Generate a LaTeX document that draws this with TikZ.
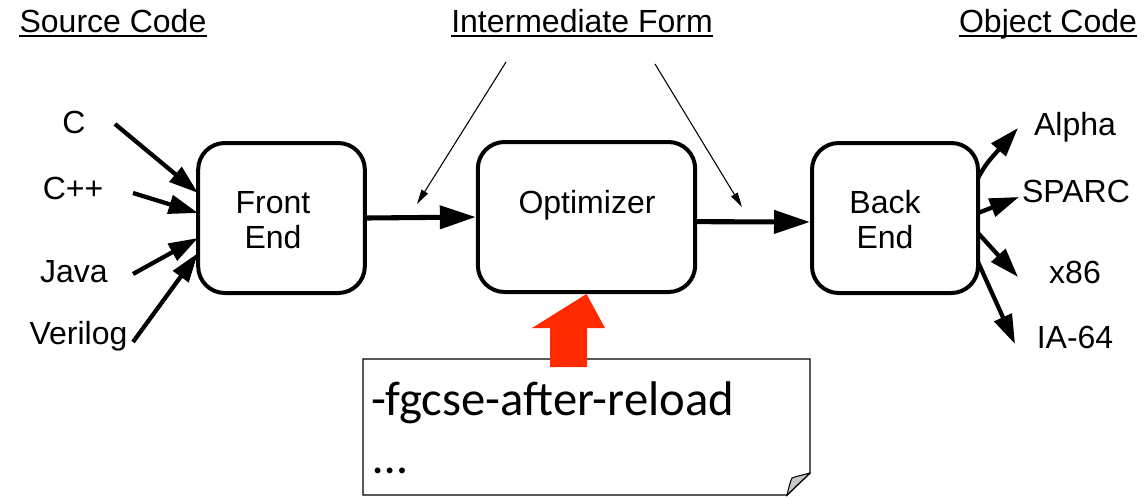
\documentclass[tikz,border=0pt]{standalone}
\usepackage{fontspec}
\setmainfont{Liberation Sans}
\newfontfamily\notefont{Carlito}
\usetikzlibrary{arrows.meta}
\definecolor{hotred}{RGB}{255,42,0}
\definecolor{foldgray}{RGB}{200,200,200}

\begin{document}
\begin{tikzpicture}[x=0.75pt,y=-0.75pt,
  lbl/.style={font=\fontsize{24}{26.25}\selectfont, inner sep=0pt, anchor=base},
  stage/.style={draw, line width=3pt, rounded corners=20pt, minimum height=112.5pt},
  flow/.style={line width=3.8pt, -{Triangle[length=27pt,width=17pt]}},
  feed/.style={line width=3.2pt, -{Triangle[length=22pt,width=14pt]}},
  hint/.style={line width=0.8pt, -{Triangle[length=11pt,width=5.5pt]}},
  uline/.style={line width=1.4pt}
]
\useasboundingbox (0,0) rectangle (1148,497);

% column headings
\node[lbl] (src) at (113,32) {Source Code};
\node[lbl] (mid) at (582,32) {Intermediate Form};
\node[lbl] (obj) at (1048,32) {Object Code};
\foreach \h in {src,mid,obj}
  \draw[uline] ([yshift=-3pt]\h.base west) -- ([yshift=-3pt]\h.base east);

% compiler stages
\node[stage, minimum width=125pt] (fe) at (281.5,218) {};
\node[stage, minimum width=163pt] (opt) at (586.5,217) {};
\node[stage, minimum width=124.5pt] (be) at (895,218) {};
\node[lbl, align=center] (fetxt) at (273,248) {Front\\End};
\node[lbl] (opttxt) at (587,213) {Optimizer};
\node[lbl, align=center] (betxt) at (885,248) {Back\\End};

% source languages
\node[lbl] (c) at (74,133) {C};
\node[lbl] (cpp) at (73,199) {C++};
\node[lbl] (java) at (74,282) {Java};
\node[lbl] (veri) at (78.5,344) {Verilog};
\coordinate (cs) at (115,124);
\coordinate (cpps) at (133,193);
\coordinate (javas) at (133,274);
\coordinate (veris) at (133,342);
\coordinate (ct) at (198,193);
\coordinate (cppt) at (198,213);
\coordinate (javat) at (198,238);
\coordinate (verit) at (198,253);
\draw[feed] (cs) -- (ct);
\draw[feed] (cpps) -- (cppt);
\draw[feed] (javas) -- (javat);
\draw[feed] (veris) -- (verit);

% target machines
\node[lbl] (alpha) at (1075,135) {Alpha};
\node[lbl] (sparc) at (1076,202) {SPARC};
\node[lbl] (x86) at (1075,283) {x86};
\node[lbl] (ia64) at (1075,348) {IA-64};
\coordinate (alphas) at (978,178);
\coordinate (sparcs) at (978,213);
\coordinate (x86s) at (978,233);
\coordinate (ia64s) at (978,262);
\coordinate (alphat) at (1018,128);
\coordinate (sparct) at (1019,197);
\coordinate (x86t) at (1018,277);
\coordinate (ia64t) at (1015,344);
\draw[feed] (alphas) .. controls (986,164) .. (alphat);
\draw[feed] (sparcs) -- (sparct);
\draw[feed] (x86s) -- (x86t);
\draw[feed] (ia64s) -- (ia64t);

% main pipeline
\draw[flow] (fe.east) -- (opt.west);
\draw[flow] ([yshift=-3.5pt]opt.east) -- ([yshift=-3pt]be.west);

% pointers to the intermediate form
\coordinate (h1s) at (506,62);
\coordinate (h1t) at (417,204);
\coordinate (h2s) at (655,64);
\coordinate (h2t) at (742,207);
\draw[hint] (h1s) -- (h1t);
\draw[hint] (h2s) -- (h2t);

% option note with folded corner
\coordinate (nw) at (363,359);
\draw[line width=1.1pt, fill=white] (nw) -- (810,359) -- (810,473) -- (787,495) -- (363,495) -- cycle;
\filldraw[fill=foldgray, line width=0.8pt] (810,473) -- (787,495)
  .. controls (789,487) and (790,482) .. (792,478)
  .. controls (797,476) and (803,475) .. (810,473);
\node[font=\notefont\fontsize{36.5}{40}\selectfont, inner sep=0pt, anchor=base west] (opt1) at (371,415) {-fgcse-after-reload};
\node[font=\notefont\fontsize{36.5}{40}\selectfont, inner sep=0pt, anchor=base west] (opt2) at (373,473) {…};

% big red arrow into the optimizer
\fill[hotred] (opt.south) -- (605,328) -- (587,328) -- (587,367) -- (550,367) -- (550,328) -- (532,328) -- cycle;
\end{tikzpicture}
\end{document}
